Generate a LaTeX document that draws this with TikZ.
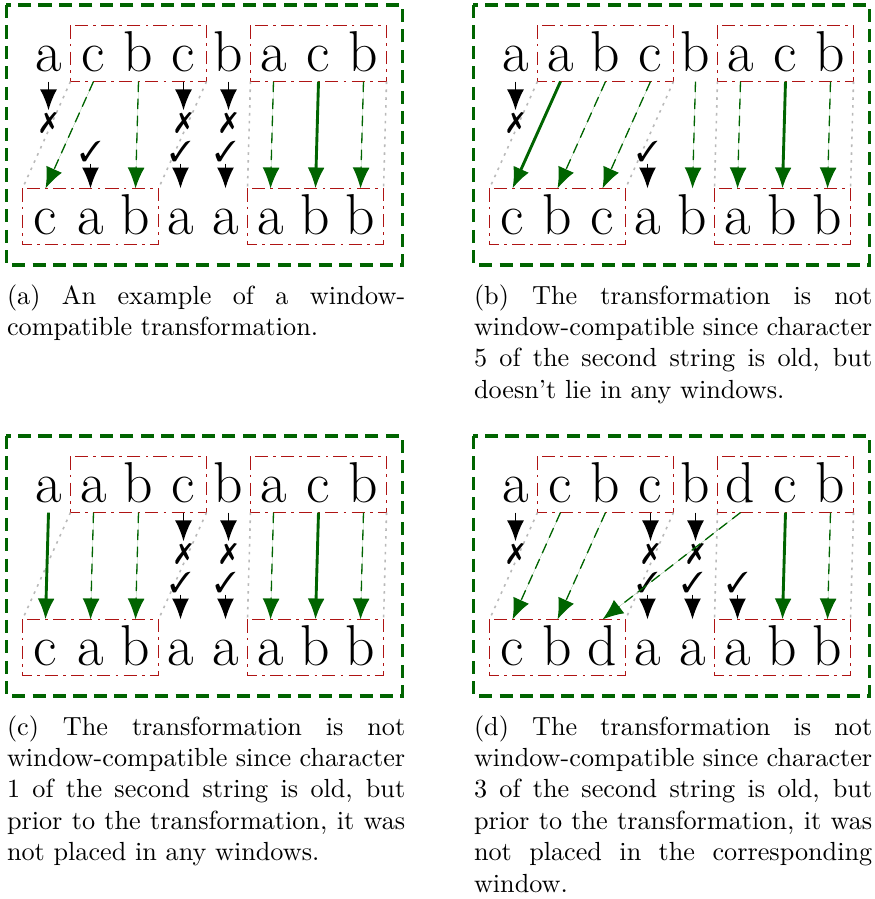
\documentclass[tikz,border=0pt]{standalone}
\usepackage{pifont}
\usetikzlibrary{arrows.meta,positioning}

\definecolor{wingreen}{RGB}{0,100,0}
\definecolor{winred}{RGB}{175,20,20}

\begin{document}
\begin{tikzpicture}[
    x=0.3817pt, y=-0.3817pt,
    chr/.style={inner sep=0pt, minimum width=17.18pt, text height=17.2pt, text depth=3.8pt, font=\fontsize{22}{26}\selectfont},
    frame/.style={draw=wingreen, line width=1.2pt, dash pattern=on 5pt off 2.8pt},
    window/.style={draw=winred, line width=0.7pt, dash pattern=on 5pt off 2pt on 1pt off 2pt},
    guide/.style={draw=gray!55, line width=0.6pt, dash pattern=on 1pt off 2pt},
    keep/.style={->, draw=wingreen, fill=wingreen, line width=1.1pt},
    move/.style={->, draw=wingreen, fill=wingreen, line width=0.5pt, dash pattern=on 4pt off 2.5pt},
    del/.style={->, line width=0.7pt},
    delmark/.style={inner sep=0.5pt, font=\fontsize{11}{11}\selectfont},
    insmark/.style={inner sep=0.5pt, font=\fontsize{11}{11}\selectfont},
    caption/.style={anchor=base west, inner sep=0pt, text width=152pt, align=justify},
    >={Latex[length=8pt,width=6.5pt]}
]
\useasboundingbox (0,0) rectangle (875,899);

% (a) window-compatible
\begin{scope}[shift={(6.5,5)}]
\draw[frame] (0,0) rectangle (396,260);
\foreach \ch [count=\i] in {a,c,b,c,b,a,c,b}
    \node[chr] (a-top\i) at ({42+45*(\i-1)},48.5) {\ch};
\foreach \ch [count=\i] in {c,a,b,a,a,a,b,b}
    \node[chr] (a-bot\i) at ({39+45*(\i-1)},211.5) {\ch};
\draw[window] (a-top2.north west) rectangle (a-top4.south east);
\draw[window] (a-top6.north west) rectangle (a-top8.south east);
\draw[window] (a-bot1.north west) rectangle (a-bot3.south east);
\draw[window] (a-bot6.north west) rectangle (a-bot8.south east);
\draw[guide] (a-top2.south west) -- (a-bot1.north west);
\draw[guide] (a-top4.south east) -- (a-bot3.north east);
\draw[guide] (a-top6.south west) -- (a-bot6.north west);
\draw[guide] (a-top8.south east) -- (a-bot8.north east);
\node[delmark, below=11pt of a-top1] (a-no1) {\ding{55}};
\node[delmark, below=11pt of a-top4] (a-no4) {\ding{55}};
\node[delmark, below=11pt of a-top5] (a-no5) {\ding{55}};
\node[insmark, above=9.5pt of a-bot2] (a-ok2) {\ding{51}};
\node[insmark, above=9.5pt of a-bot4] (a-ok4) {\ding{51}};
\node[insmark, above=9.5pt of a-bot5] (a-ok5) {\ding{51}};
\draw[del] (a-top1) -- (a-no1);
\draw[del] (a-top4) -- (a-no4);
\draw[del] (a-top5) -- (a-no5);
\draw[del] (a-ok2) -- (a-bot2);
\draw[del] (a-ok4) -- (a-bot4);
\draw[del] (a-ok5) -- (a-bot5);
\draw[move] (a-top2.south) -- (a-bot1.north);
\draw[move] (a-top3.south) -- (a-bot3.north);
\draw[move] (a-top6.south) -- (a-bot6.north);
\draw[keep] (a-top7.south) -- (a-bot7.north);
\draw[move] (a-top8.south) -- (a-bot8.north);
\end{scope}
\node[caption] (a-cap) at (6.5,304) {(a) An example of a window-compatible transformation.};

% (b) old character outside the windows
\begin{scope}[shift={(473.5,5)}]
\draw[frame] (0,0) rectangle (396,260);
\foreach \ch [count=\i] in {a,a,b,c,b,a,c,b}
    \node[chr] (b-top\i) at ({42+45*(\i-1)},48.5) {\ch};
\foreach \ch [count=\i] in {c,b,c,a,b,a,b,b}
    \node[chr] (b-bot\i) at ({39+45*(\i-1)},211.5) {\ch};
\draw[window] (b-top2.north west) rectangle (b-top4.south east);
\draw[window] (b-top6.north west) rectangle (b-top8.south east);
\draw[window] (b-bot1.north west) rectangle (b-bot3.south east);
\draw[window] (b-bot6.north west) rectangle (b-bot8.south east);
\draw[guide] (b-top2.south west) -- (b-bot1.north west);
\draw[guide] (b-top4.south east) -- (b-bot3.north east);
\draw[guide] (b-top6.south west) -- (b-bot6.north west);
\draw[guide] (b-top8.south east) -- (b-bot8.north east);
\node[delmark, below=11pt of b-top1] (b-no1) {\ding{55}};
\node[insmark, above=9.5pt of b-bot4] (b-ok4) {\ding{51}};
\draw[del] (b-top1) -- (b-no1);
\draw[del] (b-ok4) -- (b-bot4);
\draw[keep] (b-top2.south) -- (b-bot1.north);
\draw[move] (b-top3.south) -- (b-bot2.north);
\draw[move] (b-top4.south) -- (b-bot3.north);
\draw[move] (b-top5.south) -- (b-bot5.north);
\draw[move] (b-top6.south) -- (b-bot6.north);
\draw[keep] (b-top7.south) -- (b-bot7.north);
\draw[move] (b-top8.south) -- (b-bot8.north);
\end{scope}
\node[caption] (b-cap) at (473.5,304) {(b) The transformation is not window-compatible since character 5 of the second string is old, but doesn't lie in any windows.};

% (c) old character not taken from a window
\begin{scope}[shift={(6.5,436)}]
\draw[frame] (0,0) rectangle (396,260);
\foreach \ch [count=\i] in {a,a,b,c,b,a,c,b}
    \node[chr] (c-top\i) at ({42+45*(\i-1)},48.5) {\ch};
\foreach \ch [count=\i] in {c,a,b,a,a,a,b,b}
    \node[chr] (c-bot\i) at ({39+45*(\i-1)},211.5) {\ch};
\draw[window] (c-top2.north west) rectangle (c-top4.south east);
\draw[window] (c-top6.north west) rectangle (c-top8.south east);
\draw[window] (c-bot1.north west) rectangle (c-bot3.south east);
\draw[window] (c-bot6.north west) rectangle (c-bot8.south east);
\draw[guide] (c-top2.south west) -- (c-bot1.north west);
\draw[guide] (c-top4.south east) -- (c-bot3.north east);
\draw[guide] (c-top6.south west) -- (c-bot6.north west);
\draw[guide] (c-top8.south east) -- (c-bot8.north east);
\node[delmark, below=11pt of c-top4] (c-no4) {\ding{55}};
\node[delmark, below=11pt of c-top5] (c-no5) {\ding{55}};
\node[insmark, above=9.5pt of c-bot4] (c-ok4) {\ding{51}};
\node[insmark, above=9.5pt of c-bot5] (c-ok5) {\ding{51}};
\draw[del] (c-top4) -- (c-no4);
\draw[del] (c-top5) -- (c-no5);
\draw[del] (c-ok4) -- (c-bot4);
\draw[del] (c-ok5) -- (c-bot5);
\draw[keep] (c-top1.south) -- (c-bot1.north);
\draw[move] (c-top2.south) -- (c-bot2.north);
\draw[move] (c-top3.south) -- (c-bot3.north);
\draw[move] (c-top6.south) -- (c-bot6.north);
\draw[keep] (c-top7.south) -- (c-bot7.north);
\draw[move] (c-top8.south) -- (c-bot8.north);
\end{scope}
\node[caption] (c-cap) at (6.5,735) {(c) The transformation is not window-compatible since character 1 of the second string is old, but prior to the transformation, it was not placed in any windows.};

% (d) old character from another window
\begin{scope}[shift={(473.5,436)}]
\draw[frame] (0,0) rectangle (396,260);
\foreach \ch [count=\i] in {a,c,b,c,b,d,c,b}
    \node[chr] (d-top\i) at ({42+45*(\i-1)},48.5) {\ch};
\foreach \ch [count=\i] in {c,b,d,a,a,a,b,b}
    \node[chr] (d-bot\i) at ({39+45*(\i-1)},211.5) {\ch};
\draw[window] (d-top2.north west) rectangle (d-top4.south east);
\draw[window] (d-top6.north west) rectangle (d-top8.south east);
\draw[window] (d-bot1.north west) rectangle (d-bot3.south east);
\draw[window] (d-bot6.north west) rectangle (d-bot8.south east);
\draw[guide] (d-top2.south west) -- (d-bot1.north west);
\draw[guide] (d-top4.south east) -- (d-bot3.north east);
\draw[guide] (d-top6.south west) -- (d-bot6.north west);
\draw[guide] (d-top8.south east) -- (d-bot8.north east);
\node[delmark, below=11pt of d-top1] (d-no1) {\ding{55}};
\node[delmark, below=11pt of d-top4] (d-no4) {\ding{55}};
\node[delmark, below=11pt of d-top5] (d-no5) {\ding{55}};
\node[insmark, above=9.5pt of d-bot4] (d-ok4) {\ding{51}};
\node[insmark, above=9.5pt of d-bot5] (d-ok5) {\ding{51}};
\node[insmark, above=9.5pt of d-bot6] (d-ok6) {\ding{51}};
\draw[del] (d-top1) -- (d-no1);
\draw[del] (d-top4) -- (d-no4);
\draw[del] (d-top5) -- (d-no5);
\draw[del] (d-ok4) -- (d-bot4);
\draw[del] (d-ok5) -- (d-bot5);
\draw[del] (d-ok6) -- (d-bot6);
\draw[move] (d-top2.south) -- (d-bot1.north);
\draw[move] (d-top3.south) -- (d-bot2.north);
\draw[move] (d-top6.south) -- (d-bot3.north);
\draw[keep] (d-top7.south) -- (d-bot7.north);
\draw[move] (d-top8.south) -- (d-bot8.north);
\end{scope}
\node[caption] (d-cap) at (473.5,735) {(d) The transformation is not window-compatible since character 3 of the second string is old, but prior to the transformation, it was not placed in the corresponding window.};
\end{tikzpicture}
\end{document}
